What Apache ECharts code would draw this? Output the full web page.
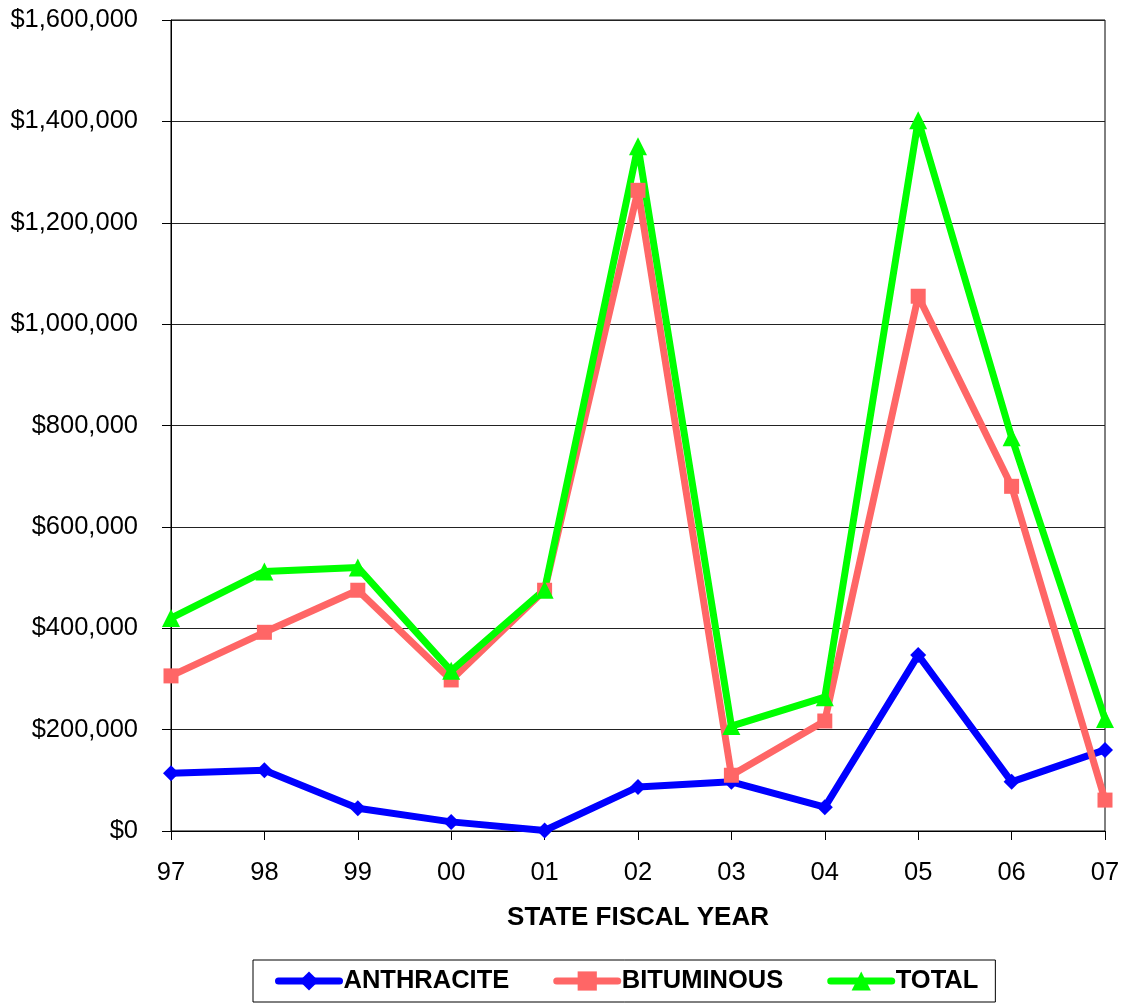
<!DOCTYPE html>
<html>
<head>
<meta charset="utf-8">
<script src="https://cdn.jsdelivr.net/npm/echarts@6/dist/echarts.min.js"></script>
<style>
  html, body { margin: 0; padding: 0; background: #fff; }
  #chart { width: 1124px; height: 1004px; }
</style>
</head>
<body>
<div id="chart"></div>
<script>
// Fiscal years (two-digit)
const years = ['97', '98', '99', '00', '01', '02', '03', '04', '05', '06', '07'];

// Dollar amounts per fiscal year
const anthracite = [114000, 120000, 45000, 18000, 1000, 87000, 97000, 47000, 347000, 97000, 160000];
const bituminous = [306000, 392000, 475000, 298000, 475000, 1264000, 110000, 217000, 1055000, 680000, 61000];
const total      = [420000, 512000, 520000, 316000, 476000, 1351000, 207000, 264000, 1402000, 777000, 221000];

// Value axis ticks
const yMin = 0, yMax = 1600000, yStep = 200000;

const FONT = '"Liberation Sans", Arial, sans-serif';

function money(v) {
  return '$' + v.toLocaleString('en-US');
}

const chart = echarts.init(document.getElementById('chart'), null, { renderer: 'canvas' });

function lineSeries(name, data, color, symbol, size) {
  return {
    name: name,
    type: 'line',
    data: data,
    symbol: symbol,
    symbolSize: size,
    showAllSymbol: true,
    lineStyle: { color: color, width: 7 },
    itemStyle: { color: color },
    emphasis: { disabled: true },
    animation: false
  };
}

chart.setOption({
  backgroundColor: '#fff',
  grid: {
    left: 171, right: 19, top: 20, bottom: 173,
    show: true, borderColor: '#000', borderWidth: 1
  },
  legend: {
    bottom: 2,
    left: 253,
    orient: 'horizontal',
    borderColor: '#000',
    borderWidth: 1,
    padding: [8, 17, 8, 22],
    itemWidth: 61,
    itemHeight: 24,
    itemGap: 44,
    lineStyle: { width: 7, cap: 'round' },
    textStyle: { fontFamily: FONT, fontSize: 25.5, fontWeight: 'bold', color: '#000', padding: [0, 0, 0, -1] },
    data: ['ANTHRACITE', 'BITUMINOUS', 'TOTAL']
  },
  xAxis: {
    type: 'category',
    data: years,
    boundaryGap: false,
    name: 'STATE FISCAL YEAR',
    nameLocation: 'middle',
    nameGap: 74,
    nameTextStyle: { fontFamily: FONT, fontSize: 26, fontWeight: 'bold', color: '#000' },
    axisLine: { lineStyle: { color: '#000', width: 1 } },
    axisTick: { show: true, length: 9, lineStyle: { color: '#000' } },
    axisLabel: { fontFamily: FONT, fontSize: 25.5, color: '#000', margin: 29 },
    splitLine: { show: false }
  },
  yAxis: {
    type: 'value',
    min: yMin, max: yMax, interval: yStep,
    axisLine: { show: true, lineStyle: { color: '#000', width: 1 } },
    axisTick: { show: true, length: 9, lineStyle: { color: '#000' } },
    axisLabel: { fontFamily: FONT, fontSize: 25.5, color: '#000', margin: 33, formatter: money },
    splitLine: { show: true, lineStyle: { color: '#222', width: 1 } }
  },
  series: [
    lineSeries('ANTHRACITE', anthracite, '#0000ff', 'diamond', 16),
    lineSeries('BITUMINOUS', bituminous, '#ff6666', 'rect', 15),
    lineSeries('TOTAL', total, '#00ff00', 'triangle', 18)
  ],
  animation: false
});
</script>
</body>
</html>
